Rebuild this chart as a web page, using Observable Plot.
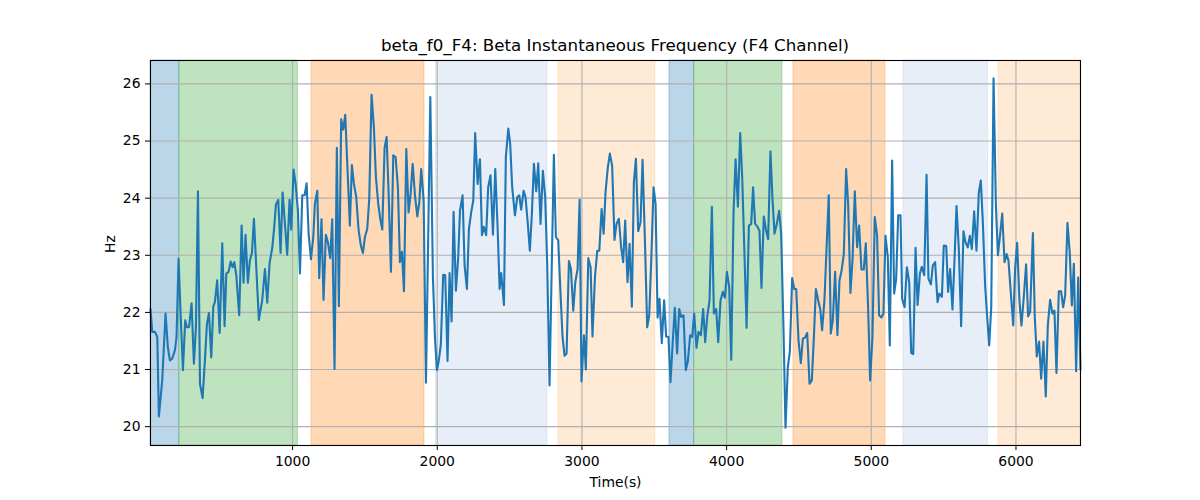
<!DOCTYPE html>
<html>
<head>
<meta charset="utf-8">
<script src="https://cdn.jsdelivr.net/npm/d3@7"></script>
<script src="https://cdn.jsdelivr.net/npm/@observablehq/plot@0.6"></script>
<style>
  html, body { margin: 0; padding: 0; background: white; }
  #wrap { width: 1200px; height: 500px; position: relative; font-family: "DejaVu Sans", sans-serif; }
  #title { box-sizing: border-box; height: 56px; padding: 35px 120px 0 150px; line-height: 20px; font-size: 16.7px; text-align: center; color: black; white-space: nowrap; }
  #chart svg { display: block; }
</style>
</head>
<body>
<div id="wrap">
  <div id="title">beta_f0_F4: Beta Instantaneous Frequency (F4 Channel)</div>
  <div id="chart"></div>
</div>
<script>
const timeSec = [
  18,30,49,65,76,99,122,138,152,168,187,198,212,226,242,258,270,284,302,318,332,346,360,378,394,408,422,438,452,463,479,496,514,530,542,558,572,585,597,611,631,648,661,675,691,705,719,733,749,767,790,809,825,841,860,873,885,901,917,931,947,963,979,991,1007,1021,1037,1051,
  1067,1083,1097,1111,1127,1143,1154,1171,1184,1200,1214,1230,1244,1260,1274,1290,1306,1320,1336,1350,1364,1380,1396,1410,1424,1440,1456,1472,1486,1500,1516,1530,1546,1562,1576,1592,1606,1620,1636,1650,1664,1680,1696,1712,1728,1742,1756,1770,1786,1802,1816,1830,1846,1862,1876,1889,1906,1922,1935,1952,1970,1984,1998,2011,2025,2041,2055,2071,2085,2099,
  2113,2129,2145,2157,2175,2189,2205,2219,2235,2249,2262,2279,2295,2309,2322,2338,2352,2368,2385,2401,2417,2431,2442,2461,2474,2491,2504,2518,2537,2553,2567,2580,2597,2610,2626,2640,2654,2668,2684,2698,2714,2730,2746,2760,2776,2790,2806,2820,2836,2852,2866,2880,2894,2910,2924,2940,2954,2970,2984,2997,3014,3027,3044,3060,3073,3090,3106,3120,3136,3150,
  3163,3179,3193,3209,3225,3239,3255,3271,3285,3299,3315,3329,3345,3359,3373,3389,3405,3419,3435,3451,3465,3479,3495,3509,3523,3536,3552,3568,3582,3598,3612,3628,3642,3658,3672,3686,3702,3718,3732,3748,3762,3776,3792,3806,3822,3838,3852,3866,3882,3898,3912,3928,3942,3958,3974,3988,4002,4018,4032,4048,4062,4078,4094,4108,4124,4138,4154,4170,
  4183,4197,4211,4227,4241,4257,4271,4287,4303,4317,4331,4347,4363,4377,4393,4407,4423,4437,4453,4467,4481,4497,4513,4527,4543,4557,4573,4589,4603,4617,4633,4647,4660,4676,4690,4706,4720,4734,4750,4766,4780,4794,4810,4826,4840,4856,4870,4886,4902,4916,4932,4948,4962,4978,4992,5008,5024,5040,5054,5070,5084,5098,5114,5128,5144,5158,5172,5186,
  5202,5213,5230,5246,5262,5276,5290,5306,5320,5336,5349,5366,5382,5395,5412,5425,5441,5458,5471,5488,5501,5518,5531,5545,5561,5575,5589,5605,5621,5637,5651,5667,5681,5695,5711,5727,5743,5757,5771,5787,5801,5815,5829,5845,5861,5875,5891,5905,5921,5935,5948,5964,5981,5994,6008,6024,6038,6054,6070,6084,6098,6117,6130,6144,6160,6174,6190,6206,6220,6236,6252,6266,6280,6296,6312,6326,6340,6356,6372,6386,6400,6416,6430,6446
];
const betaHz = [
  22.06,21.66,21.66,21.57,20.18,20.81,21.98,21.39,21.16,21.19,21.34,21.57,22.94,21.98,20.99,21.86,21.74,21.74,22.16,21.10,21.74,24.12,20.75,20.50,21.16,21.80,21.99,21.21,22.10,22.18,22.56,21.64,23.21,21.76,22.68,22.71,22.89,22.79,22.88,22.65,21.95,23.52,22.52,23.36,22.52,22.91,23.04,23.64,22.79,21.87,22.21,22.76,22.17,22.86,23.14,23.49,23.89,23.97,23.04,24.10,23.55,23.01,23.97,23.45,24.50,24.25,23.78,22.68,
  24.05,24.05,24.26,23.38,22.93,23.32,23.90,24.13,22.60,23.63,22.22,23.36,23.23,22.95,23.63,21.01,24.88,22.11,25.38,25.20,25.46,24.48,23.52,24.58,24.25,24.02,23.45,23.17,23.04,23.32,23.46,23.99,25.81,25.24,24.37,23.90,23.64,23.45,24.88,25.07,24.08,22.71,24.75,24.72,24.19,22.88,23.06,22.37,24.86,23.75,24.08,24.60,24.05,23.68,23.93,24.51,23.96,20.77,22.91,25.77,22.62,21.57,20.99,21.16,21.45,22.66,22.65,21.15,22.69,21.84,
  23.76,22.38,22.97,23.78,24.05,22.82,22.41,23.46,23.76,23.96,25.14,24.25,24.68,23.35,23.50,23.35,24.19,24.40,23.36,24.51,23.49,22.41,22.69,22.13,24.72,25.22,24.95,24.19,23.70,24.02,24.05,23.80,24.13,24.02,23.55,23.08,23.73,24.60,24.12,24.61,23.55,24.48,24.02,22.85,20.72,22.62,24.76,23.32,23.26,22.33,21.57,21.24,21.28,22.90,22.76,22.03,22.53,22.76,23.97,20.79,21.60,21.00,22.95,22.79,21.58,22.62,23.08,23.08,23.81,23.38,
  24.10,24.54,24.78,24.56,23.27,23.55,23.64,23.14,22.88,23.61,22.53,23.20,22.10,24.28,24.69,23.42,23.58,24.67,23.29,21.74,21.95,22.91,24.19,23.90,21.91,22.24,21.46,22.21,21.58,21.57,20.78,21.50,22.08,21.28,22.06,21.92,21.95,20.99,21.14,21.60,21.57,21.98,21.38,21.66,21.60,22.06,21.48,21.93,22.21,23.85,21.98,22.06,21.48,22.21,22.36,22.26,22.71,22.44,21.17,23.76,24.68,23.85,25.14,24.34,22.97,21.73,23.52,23.55,
  24.19,23.55,23.51,23.43,22.43,23.68,23.46,23.28,24.82,23.99,23.38,23.55,23.78,23.38,21.74,19.98,21.04,21.31,22.60,22.41,22.41,21.51,21.11,21.54,21.56,21.64,20.75,20.81,21.56,22.41,22.21,22.06,21.69,22.21,23.08,24.05,21.63,21.86,22.71,21.60,22.56,22.72,23.02,24.51,23.90,22.34,22.91,24.12,23.14,23.52,22.75,22.75,23.21,22.09,20.81,21.57,23.67,23.35,21.95,21.91,21.98,23.34,22.97,21.42,24.66,22.33,22.59,23.70,
  23.70,22.24,22.09,22.79,22.53,21.29,21.27,23.13,22.13,22.68,22.80,22.65,24.41,22.59,22.49,22.82,22.88,22.18,22.33,22.27,23.17,23.16,22.36,22.76,22.05,22.91,23.86,23.11,21.76,23.42,23.23,23.14,23.34,23.11,23.77,23.08,24.09,24.31,23.58,22.46,21.92,21.42,22.09,26.10,23.90,23.00,23.38,23.73,22.88,23.02,22.91,22.36,21.77,22.76,23.22,22.21,21.77,22.27,22.84,21.93,22.01,23.39,21.92,21.23,21.49,20.84,21.49,20.53,21.77,22.22,21.98,22.03,20.94,22.37,22.37,22.09,22.30,23.57,23.03,22.12,22.85,20.97,22.61,21.00
];

const spanStart = [18, 217, 1131, 1990, 2838, 3605, 3776, 4462, 5222, 5879];
const spanEnd   = [217, 1037, 1912, 2762, 3507, 3776, 4386, 5098, 5808, 6446];
const spanStage = ["A", "B", "C", "D", "E", "A", "B", "C", "D", "E"];
const stageNames = ["A", "B", "C", "D", "E"];
const stageColors = ["#1f77b4", "#2ca02c", "#ff7f0e", "#aec7e8", "#ffbb78"];

const xTicks = [1000, 2000, 3000, 4000, 5000, 6000];
const yTicks = [20, 21, 22, 23, 24, 25, 26];
const xDomain = [18, 6446];
const yDomain = [19.67, 26.41];

const series = timeSec.map((t, i) => ({t, hz: betaHz[i]}));
const spans = spanStart.map((s, i) => ({start: s, end: spanEnd[i], stage: spanStage[i]}));

const chart = Plot.plot({
  width: 1200,
  height: 444,
  marginTop: 4,
  marginBottom: 55,
  marginLeft: 150,
  marginRight: 120,
  style: {fontFamily: "DejaVu Sans, sans-serif", fontSize: "13.9px", color: "black", background: "white"},
  x: {domain: xDomain, label: null},
  y: {domain: yDomain, label: null},
  color: {domain: stageNames, range: stageColors},
  marks: [
    Plot.rect(spans, {x1: "start", x2: "end", fill: "stage", fillOpacity: 0.3, stroke: "stage", strokeOpacity: 0.3, strokeWidth: 1}),
    Plot.gridX(xTicks, {stroke: "#b0b0b0", strokeOpacity: 1, strokeWidth: 1.1}),
    Plot.gridY(yTicks, {stroke: "#b0b0b0", strokeOpacity: 1, strokeWidth: 1.1}),
    Plot.line(series, {x: "t", y: "hz", stroke: "#1f77b4", strokeWidth: 2.1}),
    Plot.frame({stroke: "black", strokeWidth: 1.1}),
    Plot.axisX(xTicks, {tickSize: 5, tickPadding: 6, tickFormat: d3.format("d"), label: null}),
    Plot.axisY(yTicks, {tickSize: 5, tickPadding: 5, tickFormat: d3.format("d"), label: null}),
    Plot.text(["Time(s)"], {frameAnchor: "bottom", dy: 41, lineAnchor: "bottom", fontSize: 13.9, fill: "black"}),
    Plot.text(["Hz"], {frameAnchor: "left", dx: -40, rotate: -90, lineAnchor: "middle", fontSize: 13.9, fill: "black"})
  ]
});
document.getElementById("chart").appendChild(chart);
</script>
</body>
</html>
